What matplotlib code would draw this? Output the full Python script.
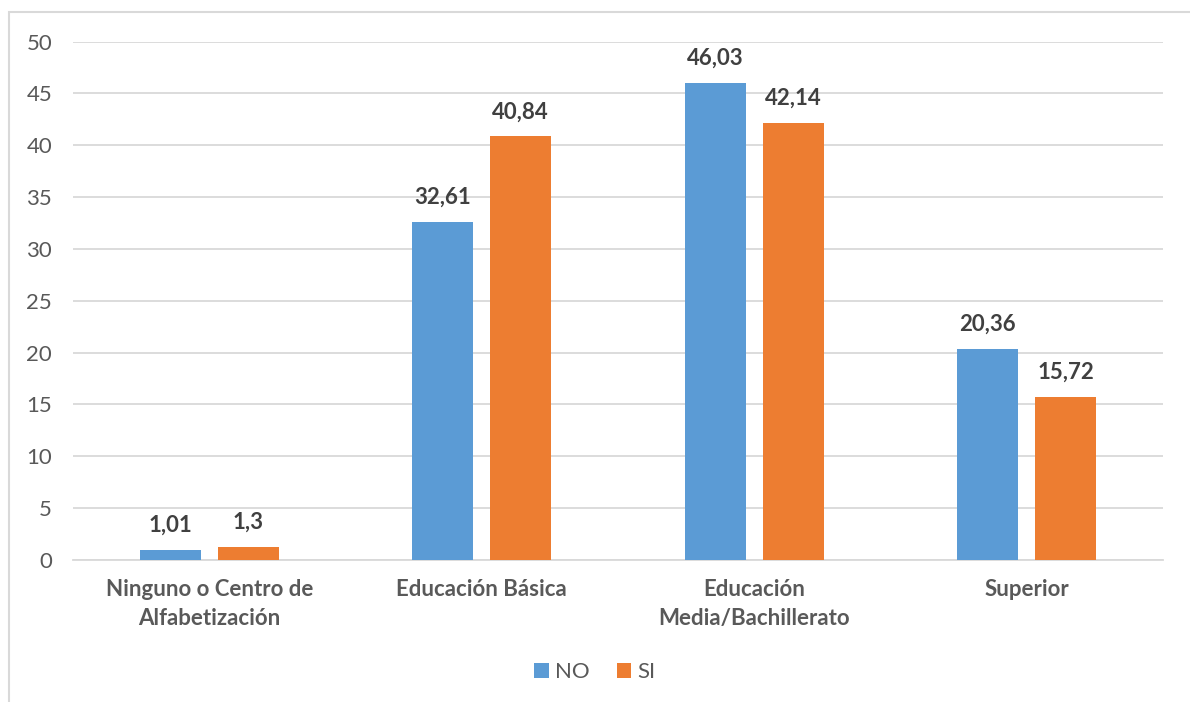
import numpy as np
import matplotlib.pyplot as plt
from matplotlib.patches import Rectangle

categories = ["Ninguno o Centro de\nAlfabetización", "Educación Básica",
              "Educación\nMedia/Bachillerato", "Superior"]
no_vals = [1.01, 32.61, 46.03, 20.36]
si_vals = [1.3, 40.84, 42.14, 15.72]
no_labels = ["1,01", "32,61", "46,03", "20,36"]
si_labels = ["1,3", "40,84", "42,14", "15,72"]

plt.rcParams["font.family"] = ["Lato", "DejaVu Sans"]
txt = "#595959"
c_no = "#5B9BD5"
c_si = "#ED7D31"
fs = 16

fig = plt.figure(figsize=(11.9, 7.02), dpi=100)
fig.patches.append(Rectangle((9 / 1190, -0.1), 1.2, 1.1 - 12 / 702,
                             transform=fig.transFigure, fill=False,
                             edgecolor="#D9D9D9", linewidth=1.5))
ax = fig.add_axes([73 / 1190, 1 - 560 / 702, (1163 - 73) / 1190, (560 - 41.5) / 702])

x = np.arange(len(categories))
w = 0.224
off = 0.143
b1 = ax.bar(x - off, no_vals, w, color=c_no, label="NO", zorder=3)
b2 = ax.bar(x + off, si_vals, w, color=c_si, label="SI", zorder=3)

for bars, labs in [(b1, no_labels), (b2, si_labels)]:
    for b, lab in zip(bars, labs):
        ax.annotate(lab, (b.get_x() + b.get_width() / 2, b.get_height()),
                    xytext=(0, 10), textcoords="offset points",
                    ha="center", va="bottom", fontsize=fs,
                    fontweight="bold", color="#404040")

ax.set_xlim(-0.5, 3.5)
ax.set_ylim(0, 50)
ax.set_yticks(np.arange(0, 51, 5))
ax.yaxis.grid(True, color="#D9D9D9", linewidth=1.3, zorder=0)
ax.set_axisbelow(True)
for s in ["top", "right", "left"]:
    ax.spines[s].set_visible(False)
ax.spines["bottom"].set_color("#D9D9D9")
ax.spines["bottom"].set_linewidth(1.3)
ax.tick_params(axis="y", length=0, pad=15, labelsize=fs, labelcolor=txt)
ax.tick_params(axis="x", length=0, pad=14)
ax.set_xticks(x)
ax.set_xticklabels(categories, fontsize=fs, fontweight="bold", color=txt,
                   linespacing=1.45)

fig.legend(loc="center", bbox_to_anchor=(0.5, 1 - 672 / 702), ncol=2,
           frameon=False, fontsize=fs, labelcolor=txt, handlelength=0.65,
           handleheight=0.65, handletextpad=0.3, columnspacing=1.2)

fig.savefig("out.png", dpi=100)
